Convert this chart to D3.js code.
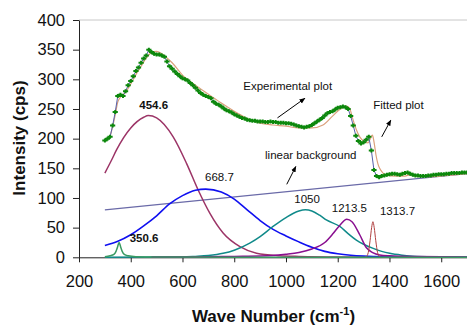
<!DOCTYPE html>
<html>
<head>
<meta charset="utf-8">
<script src="https://cdn.jsdelivr.net/npm/d3@7"></script>
<style>
  body { margin: 0; background: #fff; }
  svg { display: block; font-family: "Liberation Sans", Arial, sans-serif; }
</style>
</head>
<body>
<div id="chart"></div>
<script>
// experimental spectrum, every 10 cm-1 from 300 to 1700
const expStart = 300, expStep = 10;
const expValues = [
  197, 200, 203, 222, 245, 272, 274, 272, 280, 290,
  297, 305, 314, 320, 328, 335, 340, 350, 346, 343,
  342, 342, 340, 338, 330, 322, 318, 313, 309, 305,
  302, 300, 298, 294, 290, 286, 281, 277, 274, 272,
  270, 268, 262, 259, 257, 254, 251, 248, 246, 244,
  241, 239, 237, 235, 234, 232, 231, 230, 230, 229,
  229, 229, 228, 228, 229, 228, 228, 227, 227, 227,
  226, 226, 225, 224, 222, 221, 220, 219, 220, 221,
  223, 226, 229, 232, 235, 239, 243, 245, 246, 249,
  252, 253, 254, 253, 250, 238, 222, 205, 196, 192,
  194, 198, 203, 180, 147, 137, 135, 137, 138, 139,
  140, 141, 141, 140, 139, 141, 142, 143, 141, 139,
  138, 138, 137, 137, 137, 138, 138, 139, 139, 140,
  140, 140, 141, 141, 142, 142, 142, 142, 143, 143,
  143
];

// fitted curve
const fitX = [300, 320, 340, 350, 360, 380, 400, 420, 440, 460, 480, 500, 520, 540, 560, 600, 650, 700, 750, 800, 850, 900, 950, 1000, 1050, 1100, 1143, 1180, 1210, 1233, 1245, 1259, 1272, 1285, 1300, 1317, 1326, 1334, 1340, 1348, 1355, 1362, 1375, 1388, 1420, 1460, 1480, 1500, 1550, 1600, 1650, 1700];
const fitY = [196, 205, 240, 262, 270, 278, 292, 308, 322, 336, 345, 347, 343, 336, 328, 307, 290, 275, 260, 246, 234, 226, 223, 221, 218, 218, 223, 238, 250, 255, 252, 232, 215, 203, 196, 193, 200, 206, 195, 172, 158, 150, 142, 139, 137, 137, 139, 137, 136, 137, 139, 141];

// fitted components
const p350X = [300, 320, 335, 343, 348, 352, 355, 358, 362, 367, 375, 390, 420, 500, 800, 1700];
const p350Y = [1, 2.5, 5, 10, 16, 22, 25, 22, 16, 10, 5, 2.5, 1, 0.5, 0.2, 0.1];

const p454X = [300, 326, 345, 400, 450, 468, 500, 564, 616, 661, 706, 757, 822, 886, 976, 1050, 1200, 1700];
const p454Y = [142, 164, 181, 218, 236, 239, 235, 203, 158, 113, 74, 41, 18, 7, 2.7, 1.5, 0.6, 0.2];

const p668X = [300, 350, 400, 450, 500, 550, 600, 650, 690, 750, 800, 850, 900, 950, 1000, 1050, 1100, 1150, 1200, 1250, 1300, 1400, 1500, 1700];
const p668Y = [20, 27, 38, 53, 70, 90, 104, 113, 115, 110, 98, 80, 62, 47, 36, 26, 17, 10, 6, 3.5, 2, 0.7, 0.3, 0];

const p1050X = [300, 600, 650, 700, 757, 800, 860, 900, 950, 1000, 1050, 1075, 1100, 1130, 1156, 1208, 1240, 1272, 1300, 1337, 1370, 1401, 1450, 1478, 1550, 1700];
const p1050Y = [0.1, 0.5, 1.5, 3, 6.7, 12, 24, 35, 52, 67, 78, 80, 78, 71, 63, 52, 40, 29, 22, 15, 10, 6.7, 3.5, 2.2, 1, 0.3];

const p1213X = [480, 700, 800, 900, 1000, 1050, 1100, 1150, 1182, 1210, 1235, 1255, 1285, 1311, 1335, 1362, 1400, 1500, 1700];
const p1213Y = [0.3, 1, 1.5, 2, 5, 8, 14, 25, 40, 55, 64, 60, 38, 16, 8, 4, 2.5, 1.2, 0.5];

const p1313X = [1280, 1300, 1310, 1318, 1325, 1331, 1336, 1341, 1347, 1354, 1362, 1372, 1400];
const p1313Y = [0, 0, 1, 8, 28, 50, 60, 50, 28, 8, 1, 0, 0];

const bgX = [300, 1700];
const bgY = [80, 141];

const xTicks = [200, 400, 600, 800, 1000, 1200, 1400, 1600];
const yTicks = [0, 50, 100, 150, 200, 250, 300, 350, 400];

// peak labels: text, wave number, intensity, bold
const peakLabels = [
  ["454.6", 433, 250, true],
  ["668.7", 687, 129, false],
  ["350.6", 396, 25, true],
  ["1050", 1032, 91, false],
  ["1213.5", 1177, 77, false],
  ["1313.7", 1363, 71, false]
];
// annotations: text, text pos, arrow from, arrow to
const notes = [
  ["Experimental plot", [835, 282], [967, 235], [1073, 268]],
  ["Fitted plot", [1337, 250], [1370, 203], [1405, 231]],
  ["linear background", [919, 166], [1003, 123], [1038, 153]]
];

const W = 467, H = 329;
const mLeft = 79, mTop = 20, mBottom = 257.3, mRight = 467.1;

const svg = d3.select("#chart").append("svg").attr("width", W).attr("height", H);

const x = d3.scaleLinear().domain([200, 1700]).range([mLeft, mRight]);
const y = d3.scaleLinear().domain([0, 400]).range([mBottom, mTop]);

const defs = svg.append("defs");
defs.append("clipPath").attr("id", "clip")
  .append("rect").attr("x", mLeft).attr("y", mTop - 2).attr("width", mRight - mLeft).attr("height", mBottom - mTop + 4);

defs.append("marker").attr("id", "arrow")
  .attr("viewBox", "0 0 10 10").attr("refX", 9).attr("refY", 5)
  .attr("markerWidth", 6).attr("markerHeight", 6).attr("orient", "auto")
  .append("path").attr("d", "M0,1 L10,5 L0,9 Z").attr("fill", "#000");

// top border of plot area
svg.append("line").attr("x1", mLeft).attr("x2", mRight).attr("y1", mTop).attr("y2", mTop)
  .attr("stroke", "#c8c8c8").attr("stroke-width", 1);

const xAxis = svg.append("g").attr("transform", `translate(0,${mBottom})`)
  .call(d3.axisBottom(x).tickValues(xTicks).tickFormat(d3.format("d"))
    .tickSize(5).tickPadding(13).tickSizeOuter(0));
const yAxis = svg.append("g").attr("transform", `translate(${mLeft},0)`)
  .call(d3.axisLeft(y).tickValues(yTicks).tickFormat(d3.format("d"))
    .tickSize(6).tickPadding(8).tickSizeOuter(0));
[xAxis, yAxis].forEach(g => {
  g.select(".domain").attr("stroke", "#222");
  g.selectAll(".tick line").attr("stroke", "#222");
  g.selectAll(".tick text").attr("font-size", 16.5).attr("fill", "#111")
    .attr("font-family", "Liberation Sans, Arial, sans-serif");
});

const plot = svg.append("g").attr("clip-path", "url(#clip)");
const line = d3.line().x(d => x(d[0])).y(d => y(d[1])).curve(d3.curveMonotoneX);
const zipped = (xs, ys) => xs.map((v, i) => [v, ys[i]]);

const comps = [
  [bgX, bgY, "#6a6aa8", 1.3],
  [p454X, p454Y, "#9c3567", 1.5],
  [p668X, p668Y, "#1010f0", 1.6],
  [p1050X, p1050Y, "#108a8a", 1.5],
  [p1213X, p1213Y, "#8a1090", 1.5],
  [p1313X, p1313Y, "#b04040", 1],
  [p350X, p350Y, "#3a9a62", 1.5]
];
comps.forEach(([xs, ys, c, w]) => {
  plot.append("path").datum(zipped(xs, ys)).attr("d", line)
    .attr("fill", "none").attr("stroke", c).attr("stroke-width", w);
});

const expData = expValues.map((v, i) => [expStart + i * expStep, v]);

plot.append("path").datum(zipped(fitX, fitY)).attr("d", line)
  .attr("fill", "none").attr("stroke", "#dba07c").attr("stroke-width", 1.2);

plot.append("path").datum(expData).attr("d", d3.line().x(d => x(d[0])).y(d => y(d[1])))
  .attr("fill", "none").attr("stroke", "#5560aa").attr("stroke-width", 1);

plot.selectAll(".mk").data(expData).join("path").attr("class", "mk")
  .attr("transform", d => `translate(${x(d[0])},${y(d[1])})`)
  .attr("d", "M-2.6,0H2.6M0,-2V2")
  .attr("stroke", "#0c880c").attr("stroke-width", 2);

svg.append("g").selectAll("text").data(peakLabels).join("text")
  .attr("x", d => x(d[1])).attr("y", d => y(d[2]))
  .attr("font-size", 11.5).attr("font-weight", d => d[3] ? "bold" : "normal")
  .attr("fill", "#111").text(d => d[0]);

const ng = svg.append("g");
ng.selectAll("text").data(notes).join("text")
  .attr("x", d => x(d[1][0])).attr("y", d => y(d[1][1]))
  .attr("font-size", 11.5).attr("fill", "#111").text(d => d[0]);
ng.selectAll("line").data(notes).join("line")
  .attr("x1", d => x(d[2][0])).attr("y1", d => y(d[2][1]))
  .attr("x2", d => x(d[3][0])).attr("y2", d => y(d[3][1]))
  .attr("stroke", "#000").attr("stroke-width", 1).attr("marker-end", "url(#arrow)");

// axis titles
const xt = svg.append("text").attr("x", 273.5).attr("y", 321.5)
  .attr("text-anchor", "middle").attr("font-size", 17).attr("font-weight", "bold").attr("fill", "#111");
xt.append("tspan").text("Wave Number (cm");
xt.append("tspan").attr("font-size", 11).attr("dy", -7).text("-1");
xt.append("tspan").attr("dy", 7).text(")");

svg.append("text").attr("transform", `translate(25,138) rotate(-90)`)
  .attr("text-anchor", "middle").attr("font-size", 17).attr("font-weight", "bold").attr("fill", "#111")
  .text("Intensity (cps)");
</script>
</body>
</html>
